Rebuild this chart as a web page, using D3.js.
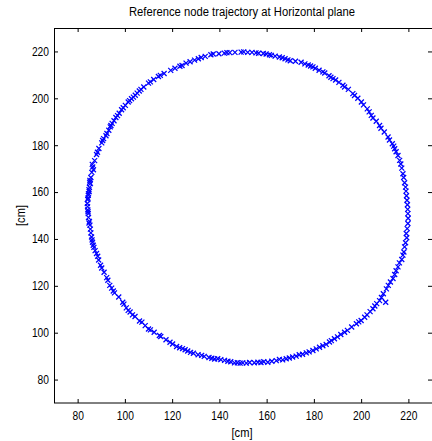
<!DOCTYPE html>
<html>
<head>
<meta charset="utf-8">
<script src="https://cdn.jsdelivr.net/npm/d3@7"></script>
<style>
  body { margin: 0; background: #fff; }
  svg { display: block; }
  text { font-family: "Liberation Sans", Arial, sans-serif; font-size: 12px; fill: #000; }
</style>
</head>
<body>
<div id="chart"></div>
<script>
const trajX = [
  85.2, 85.0, 84.6, 84.5, 84.3, 84.1, 84.3, 84.5, 84.6, 84.8, 85.0, 85.2, 85.4,
  86.4, 86.7, 86.2, 88.0, 88.4, 90.2, 90.6, 92.0, 92.4, 94.1, 94.6, 93.8, 96.2, 96.9,
  98.6, 99.3, 101.4, 102.0, 103.6, 104.4, 106.1, 106.8, 110.0, 110.8, 114.2, 115.0,
  119.4, 123.3, 124.2, 125.9, 129.5, 131.1, 132.3, 136.4, 137.4, 142.1, 143.2, 144.4,
  149.2, 150.3, 152.0, 155.5, 156.6, 158.6, 161.2, 162.0, 165.4, 166.6, 169.0, 170.0,
  174.6, 176.2, 177.6, 179.6, 180.6, 183.8, 184.6, 186.4, 188.1, 189.2, 192.3, 193.0,
  196.5, 197.2, 200.1, 201.0, 202.6, 204.3, 205.0, 207.8, 208.4, 211.4, 212.0, 213.2,
  214.2, 214.8, 216.3, 216.8, 217.7, 218.0, 218.8, 219.0, 219.4, 219.6, 219.8, 219.9,
  219.8, 219.1, 219.3, 218.4, 217.7, 218.1, 215.6, 216.2, 213.5, 214.2, 210.7, 211.5,
  210.4, 207.8, 208.6, 205.0, 205.8, 201.5, 202.5, 198.0, 199.0, 193.0, 194.2, 188.7,
  190.0, 185.2, 186.6, 181.0, 182.4, 176.8, 178.0, 172.5, 173.8, 168.3, 169.6, 164.1,
  165.4, 160.5, 156.3, 157.6, 154.8, 149.9, 148.8, 146.4, 143.6, 144.8, 139.3, 140.6,
  136.8, 135.6, 132.5, 133.6, 129.0, 127.8, 125.5, 124.4, 121.9, 119.1, 120.2, 114.6,
  115.2, 110.0, 110.8, 107.2, 106.2, 104.3, 101.4, 102.2, 99.1, 99.6, 95.1, 95.6,
  93.6, 92.3, 92.8, 89.7, 90.2, 88.0, 88.5, 86.6, 86.9, 85.9, 86.1
];
const trajY = [
  145.9, 147.5, 149.2, 150.8, 152.4, 155.1, 156.8, 158.6, 159.3, 161.0, 162.0, 165.0, 163.6,
  170.7, 169.5, 171.8, 176.0, 177.0, 181.0, 182.0, 184.0, 185.0, 188.4, 189.3, 187.8, 191.8, 192.6,
  195.1, 196.0, 198.4, 199.0, 200.5, 201.3, 203.1, 203.8, 206.5, 207.0, 209.3, 209.8,
  211.9, 213.7, 214.0, 215.0, 216.3, 216.9, 217.4, 218.6, 218.9, 219.3, 219.5, 219.5,
  219.7, 219.8, 219.6, 219.4, 219.2, 219.1, 218.6, 218.3, 217.6, 217.3, 216.4, 216.0,
  215.4, 214.7, 214.2, 213.4, 212.8, 211.3, 210.8, 209.6, 208.4, 207.8, 205.6, 204.8,
  202.0, 201.2, 198.4, 197.2, 195.5, 192.7, 191.6, 188.4, 187.2, 183.5, 182.2, 180.6,
  178.5, 177.2, 173.5, 172.0, 167.8, 166.2, 162.1, 160.4, 156.5, 154.6, 150.8, 148.8,
  146.6, 142.3, 140.5, 136.6, 133.1, 134.4, 128.1, 129.8, 123.1, 124.8, 118.7, 120.2,
  113.0, 113.7, 115.0, 110.2, 111.4, 106.6, 107.6, 103.8, 104.6, 100.2, 101.0, 97.4,
  98.2, 95.0, 96.0, 93.1, 93.8, 91.4, 91.8, 90.0, 90.6, 88.9, 89.2, 88.1,
  88.6, 87.4, 87.4, 87.3, 87.2, 87.1, 87.0, 87.1, 87.8, 87.6, 88.9, 88.5,
  89.1, 89.4, 90.3, 89.9, 91.2, 91.6, 92.7, 93.2, 94.1, 95.9, 95.2, 98.8,
  98.4, 101.6, 101.2, 104.5, 105.0, 106.9, 109.5, 108.8, 113.0, 112.2, 117.8, 117.0,
  120.2, 123.5, 122.4, 128.8, 127.6, 133.8, 132.6, 137.3, 136.4, 140.8, 139.6
];
// more samples from the denser clusters of the band
const extraPts = [
  [84.8, 146.8], [84.4, 151.6], [84.2, 153.8], [84.4, 157.4], [84.9, 160.2], [85.1, 164.2],
  [85.6, 166.2], [86.0, 168.4], [87.2, 173.4], [89.0, 178.6], [91.0, 182.8], [93.2, 186.4],
  [95.4, 190.4], [97.6, 193.6], [100.2, 197.0], [102.8, 199.8], [105.2, 202.2], [108.0, 204.8],
  [112.2, 208.0], [116.6, 210.6], [121.2, 212.8], [127.6, 215.6], [134.0, 217.9], [139.8, 219.0],
  [146.6, 219.6], [153.8, 219.6], [159.8, 218.9], [163.6, 218.0], [167.8, 216.9], [172.2, 215.8],
  [178.6, 213.8], [182.2, 212.0], [187.2, 209.0], [190.6, 206.8], [194.6, 203.8], [198.6, 200.0],
  [203.4, 194.2], [206.4, 190.2], [209.8, 185.6], [213.8, 179.6], [215.6, 175.6], [217.2, 170.2],
  [218.4, 164.0], [219.2, 158.4], [219.7, 152.6], [219.5, 144.4], [218.8, 138.4], [217.2, 131.2],
  [214.8, 126.4], [212.4, 121.6], [209.4, 116.6], [206.6, 112.4], [203.8, 109.0], [200.0, 105.2],
  [196.0, 102.4], [191.4, 99.2], [187.4, 96.6], [183.8, 94.4], [179.6, 92.4], [175.2, 90.8],
  [171.0, 89.6], [166.8, 88.4], [162.2, 87.8], [158.8, 87.6], [152.8, 87.3], [151.4, 87.0],
  [147.6, 87.2], [142.2, 88.2], [138.0, 88.8], [131.0, 90.6], [126.6, 92.2], [123.2, 93.6],
  [117.4, 97.0], [112.4, 100.2], [108.6, 103.0], [103.2, 107.6], [100.6, 110.6], [97.4, 115.2],
  [94.4, 119.0], [91.2, 125.8], [88.9, 131.0], [87.4, 135.0], [86.3, 138.6], [85.6, 142.6],
  [85.4, 144.2]
];
const xTicks = [80, 100, 120, 140, 160, 180, 200, 220];
const yTicks = [80, 100, 120, 140, 160, 180, 200, 220];

const points = trajX.map((x, i) => ({ x: x, y: trajY[i] }))
    .concat(extraPts.map(p => ({ x: p[0], y: p[1] })))
    .filter(d => d.y !== undefined);

const width = 432, height = 441;
const margin = { top: 28, right: 0, bottom: 38, left: 54 };
const w = width - margin.left - margin.right;
const h = height - margin.top - margin.bottom;

const svg = d3.select("#chart").append("svg")
    .attr("width", width)
    .attr("height", height);

const g = svg.append("g")
    .attr("transform", `translate(${margin.left},${margin.top})`);

const x = d3.scaleLinear().domain([70, 230]).range([0, w]);
const y = d3.scaleLinear().domain([70, 230]).range([h, 0]);

// MATLAB style box with inward ticks
g.append("g")
    .attr("transform", `translate(0,${h})`)
    .call(d3.axisBottom(x).tickValues(xTicks).tickSizeInner(-4).tickSizeOuter(0).tickPadding(8))
    .call(a => a.select(".domain").remove());
g.append("g")
    .call(d3.axisTop(x).tickValues(xTicks).tickSizeInner(-4).tickSizeOuter(0).tickFormat(""))
    .call(a => a.select(".domain").remove());
g.append("g")
    .call(d3.axisLeft(y).tickValues(yTicks).tickSizeInner(-4).tickSizeOuter(0).tickPadding(5))
    .call(a => a.select(".domain").remove());
g.append("g")
    .attr("transform", `translate(${w},0)`)
    .call(d3.axisRight(y).tickValues(yTicks).tickSizeInner(-4).tickSizeOuter(0).tickFormat(""))
    .call(a => a.select(".domain").remove());

// narrow the tick labels the way the original Helvetica renders
g.selectAll(".tick text")
    .style("font-size", "12px")
    .attr("fill", "#000")
    .attr("lengthAdjust", "spacingAndGlyphs")
    .attr("textLength", function() { return 5.7 * this.textContent.length; });

g.append("rect")
    .attr("x", 0.5).attr("y", 0.5)
    .attr("width", w + 1).attr("height", h - 0.5)
    .attr("fill", "none")
    .attr("stroke", "#000")
    .attr("stroke-width", 1);

// x markers
const s = 2.5;
g.append("g")
    .selectAll("path")
    .data(points)
    .join("path")
    .attr("d", d => {
        const cx = x(d.x), cy = y(d.y);
        return `M${cx - s},${cy - s}L${cx + s},${cy + s}M${cx - s},${cy + s}L${cx + s},${cy - s}`;
    })
    .attr("stroke", "#0000ff")
    .attr("stroke-width", 1.25)
    .attr("fill", "none");

svg.append("text")
    .attr("x", 242)
    .attr("y", 16)
    .attr("text-anchor", "middle")
    .attr("lengthAdjust", "spacingAndGlyphs")
    .attr("textLength", 226)
    .text("Reference node trajectory at Horizontal plane");

svg.append("text")
    .attr("x", 242)
    .attr("y", 437)
    .attr("text-anchor", "middle")
    .attr("lengthAdjust", "spacingAndGlyphs")
    .attr("textLength", 21)
    .text("[cm]");

svg.append("text")
    .attr("transform", `translate(25,${margin.top + h / 2}) rotate(-90)`)
    .attr("text-anchor", "middle")
    .attr("lengthAdjust", "spacingAndGlyphs")
    .attr("textLength", 21)
    .text("[cm]");
</script>
</body>
</html>
